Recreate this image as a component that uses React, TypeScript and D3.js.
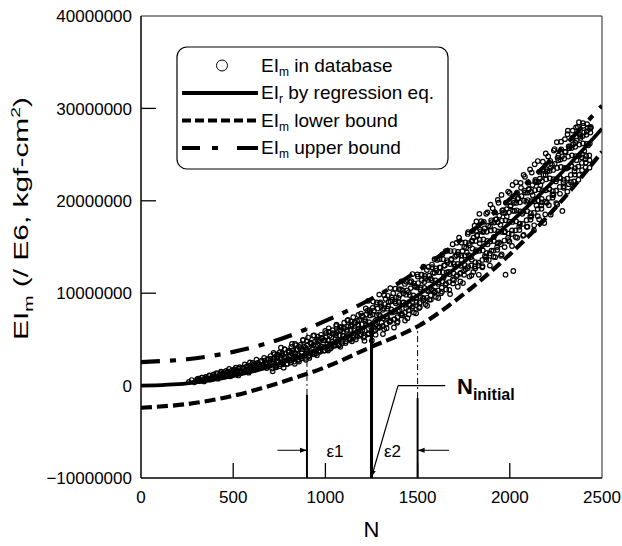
import React from 'react';
import * as d3 from 'd3';

// Curves (EI values in millions) sampled every 250 N
const curveN = [0, 250, 500, 750, 1000, 1250, 1500, 1750, 2000, 2250, 2500];
const regressionEI = [0, 0.25, 1.03, 2.36, 4.25, 6.71, 9.77, 13.38, 17.6, 22.4, 27.8];
const lowerEI = [-2.4, -2.0, -1.1, 0.3, 2.0, 4.2, 6.4, 9.9, 14.2, 19.3, 25.3];
const upperEI = [2.55, 2.85, 3.65, 5.0, 7.0, 9.4, 12.4, 16.0, 20.2, 25.0, 30.3];

// Database points [N, EI (millions)]
const databaseEI: [number, number][] = [
  [260,0.4],[275,0.6],[290,0.35],[305,0.7],[318,0.5],[330,0.85],[342,0.45],
  [352,0.9],[360,0.65],[371,1.1],[383,0.7],[395,1.2],[402,0.9],[410,1.35],[418,0.75],[426,1.1],[434,1.5],[441,0.9],
  [448,1.3],[455,1.0],[462,1.6],[470,1.15],[478,1.8],[485,1.0],[492,1.45],
  [500,1.7],[507,1.25],[514,1.95],[521,1.4],[528,1.1],[535,2.0],[542,1.6],
  [549,1.9],[556,1.45],[563,2.3],[570,1.7],[577,2.1],[584,1.4],[591,2.5],
  [598,1.9],[605,2.45],[612,1.75],[619,2.2],[626,2.8],[633,1.9],[640,2.35],[647,2.0],
  [654,2.7],[661,2.15],[668,3.0],[675,2.4],[682,1.9],[689,2.9],[696,2.5],
  [703,3.2],[710,2.4],[717,2.85],[724,3.4],[731,2.2],[738,3.05],[745,2.6],[752,3.6],
  [759,2.9],[766,3.5],[773,2.55],[780,3.9],[787,3.1],[794,2.75],[801,3.7],
  [808,3.3],[815,4.2],[822,2.9],[829,3.6],[836,4.5],[843,3.1],[850,3.9],[857,2.6],
  [864,4.4],[871,3.5],[878,4.9],[885,3.2],[892,4.1],[899,3.7],[906,5.2],[913,3.0],
  [920,4.6],[927,3.9],[934,5.4],[941,3.4],[948,4.3],[955,5.0],[962,3.7],[969,4.8],
  [976,5.5],[983,4.2],[990,4.9],[997,3.8],[1004,5.7],[1011,4.5],[1018,6.2],[1025,4.0],
  [1032,5.2],[1039,6.0],[1046,4.4],[1053,5.6],[1060,6.6],[1067,4.9],[1074,5.9],[1081,4.2],[1088,6.3],
  [1095,5.4],[1102,6.8],[1109,4.6],[1116,5.9],[1123,7.1],[1130,5.1],[1137,6.4],[1144,4.8],[1151,7.4],
  [1158,6.1],[1165,5.0],[1172,7.0],[1179,6.5],[1186,5.4],[1193,7.8],[1200,6.0],[1207,5.2],
  [1214,7.2],[1221,6.6],[1228,8.1],[1235,5.6],[1242,7.6],[1249,6.3],[1256,8.4],[1263,5.9],
  [1270,7.0],[1277,8.8],[1284,6.4],[1291,7.7],[1298,9.0],[1305,6.8],[1312,8.2],[1319,6.1],[1326,9.4],
  [1333,7.5],[1340,8.6],[1347,6.9],[1354,9.1],[1361,7.9],[1368,10.0],[1375,7.2],[1382,8.9],[1389,6.8],
  [1396,9.5],[1403,8.1],[1410,10.4],[1417,7.6],[1424,9.0],[1431,11.0],[1438,8.4],[1445,7.3],
  [1452,10.1],[1459,8.7],[1466,11.3],[1473,9.4],[1480,7.9],[1487,10.7],[1494,9.0],[1501,11.8],
  [1508,8.4],[1515,10.4],[1522,12.0],[1529,9.5],[1536,11.2],[1543,8.8],[1550,12.5],[1557,10.2],
  [1564,9.3],[1571,11.6],[1578,13.1],[1585,10.3],[1592,12.2],[1599,9.6],[1606,13.6],[1613,11.0],[1620,12.8],
  [1627,10.0],[1634,14.2],[1641,11.7],[1648,13.0],[1655,10.4],[1662,14.6],[1669,12.3],[1676,9.9],[1683,13.7],
  [1690,15.3],[1697,11.4],[1704,12.9],[1711,14.1],[1718,10.7],[1725,16.0],[1732,12.2],[1739,13.6],[1746,11.1],
  [1753,15.0],[1760,12.6],[1767,14.4],[1774,16.6],[1781,11.8],[1788,13.9],[1795,15.7],[1802,12.3],[1809,17.3],
  [1816,14.5],[1823,16.2],[1830,13.0],[1837,15.4],[1844,17.8],[1851,12.8],[1858,16.7],[1865,14.0],[1872,18.6],
  [1879,15.3],[1886,13.6],[1893,17.2],[1900,14.6],[1907,19.2],[1914,16.1],[1921,13.9],[1928,18.0],[1935,20.1],
  [1942,15.5],[1949,17.4],[1956,14.2],[1963,19.0],[1970,16.6],[1977,12.0],[1984,18.3],[1991,21.0],[1998,15.6],
  [2005,19.5],[2012,16.8],[2019,12.4],[2026,18.9],[2033,22.0],[2040,16.0],[2047,20.3],[2054,17.5],[2061,21.4],
  [2068,18.6],[2075,16.3],[2082,22.6],[2089,19.9],[2096,17.2],[2103,21.2],[2110,23.4],[2117,18.3],[2124,20.6],
  [2131,16.8],[2138,22.1],[2145,19.5],[2152,24.3],[2159,18.0],[2166,21.7],[2173,20.2],[2180,23.4],[2187,17.6],
  [2194,22.8],[2201,19.8],[2208,24.8],[2215,21.3],[2222,18.5],[2229,23.9],[2236,20.6],[2243,25.6],[2250,22.1],
  [2257,19.6],[2264,24.9],[2271,22.5],[2278,26.4],[2285,18.9],[2292,21.4],[2299,25.3],[2306,23.5],[2313,27.2],
  [2320,21.8],[2327,25.9],[2334,23.8],[2341,27.6],[2348,22.1],[2355,26.3],[2362,24.4],[2369,28.0],[2376,22.8],
  [2383,26.8],[2390,24.7],[2397,28.4],[2404,25.4],[2411,23.6],[2418,27.5],[2425,26.0],[2432,24.4],[2439,27.9],
  [303,0.55],[311,0.75],[323,0.6],[331,0.85],[343,0.7],[351,0.95],[363,0.75],[371,1.05],[383,0.85],[391,1.15],
  [403,0.9],[411,1.25],[423,1.0],[431,1.35],[443,1.1],[451,1.45],[463,1.15],[471,1.5],[483,1.25],[491,1.6],
  [503,1.35],[511,1.75],[523,1.4],[531,1.85],[543,1.55],[551,1.95],[563,1.6],[571,2.05],[583,1.75],[591,2.15],
  [603,1.85],[611,2.3],[623,1.95],[631,2.45],[643,2.1],[651,2.55],[663,2.2],[671,2.7],[683,2.3],[691,2.8],
  [703,2.9],[711,1.85],[723,3.0],[731,2.05],[743,3.2],[751,2.1],[763,3.3],[771,2.3],[783,3.45],[791,2.35],
  [803,3.6],[811,2.5],[823,3.8],[831,2.6],[843,3.9],[851,2.8],[863,4.05],[871,2.95],[883,4.25],[891,3.0],
  [903,4.4],[911,3.2],[923,4.5],[931,3.4],[943,4.75],[951,3.5],[963,4.9],[971,3.65],[983,5.1],[991,3.8],
  [1003,5.25],[1011,3.95],[1023,5.4],[1031,4.1],[1043,5.6],[1051,4.3],[1063,5.8],[1071,4.45],[1083,6.0],[1091,4.6],
  [1103,6.2],[1111,4.8],[1123,6.4],[1131,5.0],[1143,6.6],[1151,5.15],[1163,6.8],[1171,5.3],[1183,7.05],[1191,5.55],
  [1203,7.5],[1211,5.35],[1223,7.7],[1231,5.55],[1243,7.9],[1251,5.8],[1263,8.1],[1271,6.0],[1283,8.35],[1291,6.25],
  [1303,8.6],[1311,6.45],[1323,8.8],[1331,6.7],[1343,9.05],[1351,6.9],[1363,9.3],[1371,7.15],[1383,9.55],[1391,7.4],
  [1403,9.8],[1411,7.65],[1423,10.0],[1431,7.9],[1443,10.3],[1451,8.15],[1463,10.55],[1471,8.4],[1483,10.8],[1491,8.7],
  [1503,11.1],[1511,8.95],[1523,11.4],[1531,9.2],[1543,11.6],[1551,9.5],[1563,11.9],[1571,9.75],[1583,12.2],[1591,10.05],
  [1603,12.45],[1611,10.3],[1623,12.75],[1631,10.6],[1643,13.0],[1651,10.9],[1663,13.35],[1671,11.2],[1683,13.6],[1691,11.5],
  [1703,13.95],[1711,11.8],[1723,14.2],[1731,12.1],[1743,14.55],[1751,12.4],[1763,14.9],[1771,12.7],[1783,15.2],[1791,13.0],
  [1803,16.0],[1811,12.9],[1823,16.3],[1831,13.3],[1843,16.7],[1851,13.6],[1863,17.0],[1871,13.9],[1883,17.3],[1891,14.3],
  [1903,17.7],[1911,14.6],[1923,18.0],[1931,15.0],[1943,18.4],[1951,15.3],[1963,18.7],[1971,15.7],[1983,19.1],[1991,16.0],
  [2003,19.4],[2011,16.4],[2023,19.8],[2031,16.8],[2043,20.2],[2051,17.2],[2063,20.5],[2071,17.5],[2083,20.9],[2091,17.9],
  [2103,21.3],[2111,18.3],[2123,21.7],[2131,18.7],[2143,22.0],[2151,19.1],[2163,22.4],[2171,19.5],[2183,22.8],[2191,19.9],
  [2203,23.2],[2211,20.3],[2223,23.6],[2231,20.7],[2243,24.0],[2251,21.1],[2263,24.4],[2271,21.5],[2283,24.8],[2291,22.0],
  [2303,25.3],[2311,22.4],[2323,25.7],[2331,22.8],[2343,26.1],[2351,23.2],[2363,26.5],[2371,23.7],[2383,27.0],[2391,24.1],
  [2403,27.4],[2411,24.5],[2423,27.9],[2431,24.9],
  [317,0.62],[337,0.52],[357,0.8],[377,0.66],[397,1.0],[417,0.85],[437,1.2],[457,1.0],[477,1.4],[497,1.2],
  [517,1.6],[537,1.35],[557,1.8],[577,1.55],[597,2.0],[617,1.75],[637,2.25],[657,1.95],[677,2.5],[697,2.2],
  [717,2.65],[719,3.55],[714,1.55],[737,2.48],[739,3.38],[734,1.98],[757,3.1],[759,4.1],[754,2.3],
  [777,3.04],[779,3.94],[774,1.94],[797,2.87],[799,3.77],[794,2.37],[817,3.51],[819,4.51],[814,2.71],
  [837,3.46],[839,4.36],[834,2.36],[857,3.3],[859,4.2],[854,2.8],[877,3.95],[879,4.95],[874,3.15],
  [897,3.9],[899,4.8],[894,2.8],[917,3.76],[919,4.66],[914,3.26],[937,4.42],[939,5.42],[934,3.62],
  [957,4.39],[959,5.29],[954,3.29],[977,4.25],[979,5.15],[974,3.75],[997,4.92],[999,5.92],[994,4.12],
  [1017,4.9],[1019,5.8],[1014,3.8],[1037,4.78],[1039,5.68],[1034,4.28],[1057,5.46],[1059,6.46],[1054,4.66],
  [1077,5.45],[1079,6.35],[1074,4.35],[1097,5.34],[1099,6.24],[1094,4.84],[1117,6.04],[1119,7.04],[1114,5.24],
  [1137,6.03],[1139,6.93],[1134,4.93],[1157,5.93],[1159,6.83],[1154,5.43],[1177,6.64],[1179,7.64],[1174,5.84],
  [1197,6.64],[1199,7.54],[1194,5.54],
  [1217,6.95],[1219,8.35],[1214,5.95],[1212,4.85],[1237,6.87],[1239,8.17],[1234,5.67],[1232,9.17],
  [1257,7.69],[1259,9.09],[1254,6.59],[1252,4.89],[1277,7.61],[1279,9.01],[1274,6.61],[1272,5.51],
  [1297,7.55],[1299,8.85],[1294,6.35],[1292,9.85],[1317,8.38],[1319,9.78],[1314,7.28],[1312,5.58],
  [1337,8.32],[1339,9.72],[1334,7.32],[1332,6.22],[1357,8.25],[1359,9.55],[1354,7.05],[1352,10.55],
  [1377,9.09],[1379,10.49],[1374,7.99],[1372,6.29],[1397,9.04],[1399,10.44],[1394,8.04],[1392,6.94],
  [1417,8.99],[1419,10.29],[1414,7.79],[1412,11.29],[1437,9.84],[1439,11.24],[1434,8.74],[1432,7.04],
  [1457,9.8],[1459,11.2],[1454,8.8],[1452,7.7],[1477,9.77],[1479,11.07],[1474,8.57],[1472,12.07],
  [1497,10.63],[1499,12.03],[1494,9.53],[1492,7.83],[1517,10.6],[1519,12.0],[1514,9.6],[1512,8.5],
  [1537,10.57],[1539,11.87],[1534,9.37],[1532,12.87],[1557,11.44],[1559,12.84],[1554,10.34],[1552,8.64],
  [1577,11.41],[1579,12.81],[1574,10.41],[1572,9.31],[1597,11.39],[1599,12.69],[1594,10.19],[1592,13.69],
  [1617,12.28],[1619,13.68],[1614,11.18],[1612,9.48],[1637,12.27],[1639,13.67],[1634,11.27],[1632,10.17],
  [1657,12.26],[1659,13.56],[1654,11.06],[1652,14.56],[1677,13.16],[1679,14.56],[1674,12.06],[1672,10.36],
  [1697,13.16],[1699,14.56],[1694,12.16],[1692,11.06],[1717,13.16],[1719,14.46],[1714,11.96],[1712,15.46],
  [1737,14.07],[1739,15.47],[1734,12.97],[1732,11.27],[1757,14.09],[1759,15.49],[1754,13.09],[1752,11.99],
  [1777,14.11],[1779,15.41],[1774,12.91],[1772,16.41],
  [1797,14.83],[1799,16.73],[1794,13.63],[1792,11.93],[1795,15.63],
  [1817,14.66],[1819,17.76],[1814,13.36],[1812,12.66],[1815,15.66],
  [1837,15.79],[1839,16.89],[1834,14.59],[1832,11.99],[1835,18.59],
  [1857,15.82],[1859,17.72],[1854,14.62],[1852,12.92],[1855,16.62],
  [1877,15.65],[1879,18.75],[1874,14.35],[1872,13.65],[1875,16.65],
  [1897,16.79],[1899,17.89],[1894,15.59],[1892,12.99],[1895,19.59],
  [1917,16.84],[1919,18.74],[1914,15.64],[1912,13.94],[1915,17.64],
  [1937,16.69],[1939,19.79],[1934,15.39],[1932,14.69],[1935,17.69],
  [1957,17.84],[1959,18.94],[1954,16.64],[1952,14.04],[1955,20.64],
  [1977,17.89],[1979,19.79],[1974,16.69],[1972,14.99],[1975,18.69],
  [1997,17.75],[1999,20.85],[1994,16.45],[1992,15.75],[1995,18.75],
  [2017,18.91],[2019,20.01],[2014,17.71],[2012,15.11],[2015,21.71],
  [2037,18.97],[2039,20.87],[2034,17.77],[2032,16.07],[2035,19.77],
  [2057,18.84],[2059,21.94],[2054,17.54],[2052,16.84],[2055,19.84],
  [2077,20.01],[2079,21.11],[2074,18.81],[2072,16.21],[2075,22.81],
  [2097,20.08],[2099,21.98],[2094,18.88],[2092,17.18],[2095,20.88],
  [2117,19.96],[2119,23.06],[2114,18.66],[2112,17.96],[2115,20.96],
  [2137,21.15],[2139,22.25],[2134,19.95],[2132,17.35],[2135,23.95],
  [2157,21.24],[2159,23.14],[2154,20.04],[2152,18.34],[2155,22.04],
  [2177,21.13],[2179,24.23],[2174,19.83],[2172,19.13],[2175,22.13],
  [2197,22.33],[2199,23.43],[2194,21.13],[2192,18.53],[2195,25.13],
  [2217,22.43],[2219,24.33],[2214,21.23],[2212,19.53],[2215,23.23],
  [2237,22.34],[2239,25.44],[2234,21.04],[2232,20.34],[2235,23.34],
  [2257,23.55],[2259,24.65],[2254,22.35],[2252,19.75],[2255,26.35],
  [2277,23.66],[2279,25.56],[2274,22.46],[2272,20.76],[2275,24.46],
  [2297,23.57],[2299,26.67],[2294,22.27],[2292,21.57],[2295,24.57],
  [2317,24.79],[2319,25.89],[2314,23.59],[2312,20.99],[2315,27.59],
  [2337,24.92],[2339,26.82],[2334,23.72],[2332,22.02],[2335,25.72],
  [2357,24.84],[2359,27.94],[2354,23.54],[2352,22.84],[2355,25.84],
  [2377,26.08],[2379,27.18],[2374,24.88],[2372,22.28],[2375,28.5],
  [2397,26.21],[2399,28.11],[2394,25.01],[2392,23.31],[2395,27.01],
  [2417,26.15],[2419,28.3],[2414,24.85],[2412,24.15],[2415,27.15],
  [2437,27.39],[2439,28.0],[2434,26.19],[2432,23.59],[2435,27.8],
];

const xTickValues = [0, 500, 1000, 1500, 2000, 2500];
const xInnerTicks = [500, 1000, 1500, 2000];
const yTickValues = [-10000000, 0, 10000000, 20000000, 30000000, 40000000];
const yInnerTicks = [0, 10000000, 20000000, 30000000];

// Annotation values
const nInitial = 1250;
const eps1N = 900;
const eps2N = 1500;
const levelEI = 6.5; // millions
const eps1SolidTop = -1.0;
const eps2SolidTop = -1.35;
const arrowEI = -7.0;
const eps1Arrow = [740, 900];
const eps2Arrow = [1670, 1500];
const pointerPts: [number, number][] = [[1394, 0.0], [1650, 0.0]];
const pointerTip: [number, number] = [1250, -10];

const FONT = "'Liberation Sans', Arial, Helvetica, sans-serif";

export default function App() {
  const W = 622, H = 546;
  const L = 141, R = 602, T = 16, B = 478;
  const x = d3.scaleLinear().domain([0, 2500]).range([L, R]);
  const y = d3.scaleLinear().domain([-10000000, 40000000]).range([B, T]);
  const ym = (v: number) => y(v * 1e6);

  const line = d3.line<[number, number]>()
    .x(d => x(d[0]))
    .y(d => ym(d[1]))
    .curve(d3.curveCatmullRom.alpha(0.5));

  const regPath = line(curveN.map((n, i) => [n, regressionEI[i]] as [number, number])) || '';
  const lowPath = line(curveN.map((n, i) => [n, lowerEI[i]] as [number, number])) || '';
  const upPath = line(curveN.map((n, i) => [n, upperEI[i]] as [number, number])) || '';

  const straight = d3.line<[number, number]>().x(d => x(d[0])).y(d => ym(d[1]));
  const pointerPath = straight(pointerPts) || '';

  const legendRows = [65.5, 93, 120.5, 148];
  const lx0 = 182, lx1 = 258, tx = 261;

  return (
    <svg width={W} height={H} style={{ position: 'absolute', left: 0, top: 0, background: '#fff' }}
      fontFamily={FONT}>
      <defs>
        <marker id="ah" viewBox="0 0 10 10" refX="10" refY="5" markerWidth="7" markerHeight="7" orient="auto" markerUnits="userSpaceOnUse">
          <path d="M0,1.5 L10,5 L0,8.5 z" fill="#000" />
        </marker>
        <clipPath id="plotclip"><rect x={L} y={T} width={R - L} height={B - T} /></clipPath>
      </defs>
      <rect x={0} y={0} width={W} height={H} fill="#fff" />

      {/* frame */}
      <line x1={L} y1={T} x2={R} y2={T} stroke="#222" strokeWidth={1} />
      <line x1={R} y1={T} x2={R} y2={B} stroke="#222" strokeWidth={1} />
      <line x1={L} y1={T} x2={L} y2={B} stroke="#000" strokeWidth={1.5} />
      <line x1={L} y1={B} x2={R} y2={B} stroke="#000" strokeWidth={1.5} />

      {/* ticks */}
      {yInnerTicks.map(v => (
        <line key={'yt' + v} x1={L} x2={L + 15} y1={y(v)} y2={y(v)} stroke="#000" strokeWidth={1.3} />
      ))}
      {xInnerTicks.map(v => (
        <line key={'xt' + v} x1={x(v)} x2={x(v)} y1={B} y2={B - 15} stroke="#000" strokeWidth={1.3} />
      ))}
      {yTickValues.map(v => (
        <text key={'yl' + v} x={132} y={y(v)} dy="0.36em" textAnchor="end" fontSize={17}>{d3.format('d')(v)}</text>
      ))}
      {xTickValues.map(v => (
        <text key={'xl' + v} x={x(v)} y={503} textAnchor="middle" fontSize={17}>{v}</text>
      ))}

      {/* axis titles */}
      <text x={x(1250)} y={537} textAnchor="middle" fontSize={22}>N</text>
      <text transform="translate(28,218.5) rotate(-90)" textAnchor="middle" fontSize={20}
        textLength={243} lengthAdjust="spacingAndGlyphs">
        EI<tspan fontSize={13} dy={5}>m</tspan><tspan dy={-5}> (/ E6, kgf-cm</tspan><tspan fontSize={13} dy={-8}>2</tspan><tspan dy={8}>)</tspan>
      </text>

      <g clipPath="url(#plotclip)">
        {/* database points */}
        {databaseEI.map((d, i) => (
          <circle key={'p' + i} cx={x(d[0])} cy={ym(d[1])} r={2.3} fill="none" stroke="#000" strokeWidth={1.2} />
        ))}
        {/* curves */}
        <path d={upPath} fill="none" stroke="#000" strokeWidth={4.2} strokeDasharray="19 10 6 10" />
        <path d={lowPath} fill="none" stroke="#000" strokeWidth={4.2} strokeDasharray="11 5" />
        <path d={regPath} fill="none" stroke="#000" strokeWidth={3.8} />
      </g>

      {/* annotations */}
      <line x1={x(eps1N)} x2={x(eps1N)} y1={B} y2={ym(eps1SolidTop)} stroke="#000" strokeWidth={2} />
      <line x1={x(eps1N)} x2={x(eps1N)} y1={ym(eps1SolidTop)} y2={ym(levelEI)} stroke="#000" strokeWidth={1} strokeDasharray="6 3 2 3" />
      <line x1={x(eps2N)} x2={x(eps2N)} y1={B} y2={ym(eps2SolidTop)} stroke="#000" strokeWidth={2} />
      <line x1={x(eps2N)} x2={x(eps2N)} y1={ym(eps2SolidTop)} y2={ym(levelEI)} stroke="#000" strokeWidth={1} strokeDasharray="6 3 2 3" />
      <line x1={x(nInitial)} x2={x(nInitial)} y1={B} y2={ym(levelEI)} stroke="#000" strokeWidth={3} />

      <line x1={x(eps1Arrow[0])} x2={x(eps1Arrow[1])} y1={ym(arrowEI)} y2={ym(arrowEI)} stroke="#000" strokeWidth={1} markerEnd="url(#ah)" />
      <line x1={x(eps2Arrow[0])} x2={x(eps2Arrow[1])} y1={ym(arrowEI)} y2={ym(arrowEI)} stroke="#000" strokeWidth={1} markerEnd="url(#ah)" />
      <text x={335} y={ym(arrowEI) + 7} textAnchor="middle" fontSize={17}>ε1</text>
      <text x={392.5} y={ym(arrowEI) + 7} textAnchor="middle" fontSize={17}>ε2</text>

      <path d={pointerPath} fill="none" stroke="#000" strokeWidth={1.2} />
      <line x1={x(pointerPts[0][0])} y1={ym(pointerPts[0][1])} x2={x(pointerTip[0])} y2={ym(pointerTip[1]) - 1} stroke="#000" strokeWidth={1.2} markerEnd="url(#ah)" />
      <text x={457} y={394} fontSize={22} fontWeight="bold">N<tspan fontSize={16} dy={6}>initial</tspan></text>

      {/* legend */}
      <rect x={177} y={47} width={271} height={122} rx={10} ry={10} fill="#fff" stroke="#000" strokeWidth={1.2} />
      <circle cx={222} cy={legendRows[0]} r={5.5} fill="none" stroke="#000" strokeWidth={1} />
      <line x1={lx0} x2={lx1} y1={legendRows[1]} y2={legendRows[1]} stroke="#000" strokeWidth={4} />
      <line x1={lx0} x2={lx1} y1={legendRows[2]} y2={legendRows[2]} stroke="#000" strokeWidth={4} strokeDasharray="9 4" />
      <line x1={lx0} x2={lx1} y1={legendRows[3]} y2={legendRows[3]} stroke="#000" strokeWidth={4} strokeDasharray="18 12 6 19 21" />
      <text x={tx} y={legendRows[0] + 6} fontSize={19}>EI<tspan fontSize={12} dy={4}>m</tspan><tspan dy={-4}> in database</tspan></text>
      <text x={tx} y={legendRows[1] + 6} fontSize={19}>EI<tspan fontSize={12} dy={4}>r</tspan><tspan dy={-4}> by regression eq.</tspan></text>
      <text x={tx} y={legendRows[2] + 6} fontSize={19}>EI<tspan fontSize={12} dy={4}>m</tspan><tspan dy={-4}> lower bound</tspan></text>
      <text x={tx} y={legendRows[3] + 6} fontSize={19}>EI<tspan fontSize={12} dy={4}>m</tspan><tspan dy={-4}> upper bound</tspan></text>
    </svg>
  );
}
